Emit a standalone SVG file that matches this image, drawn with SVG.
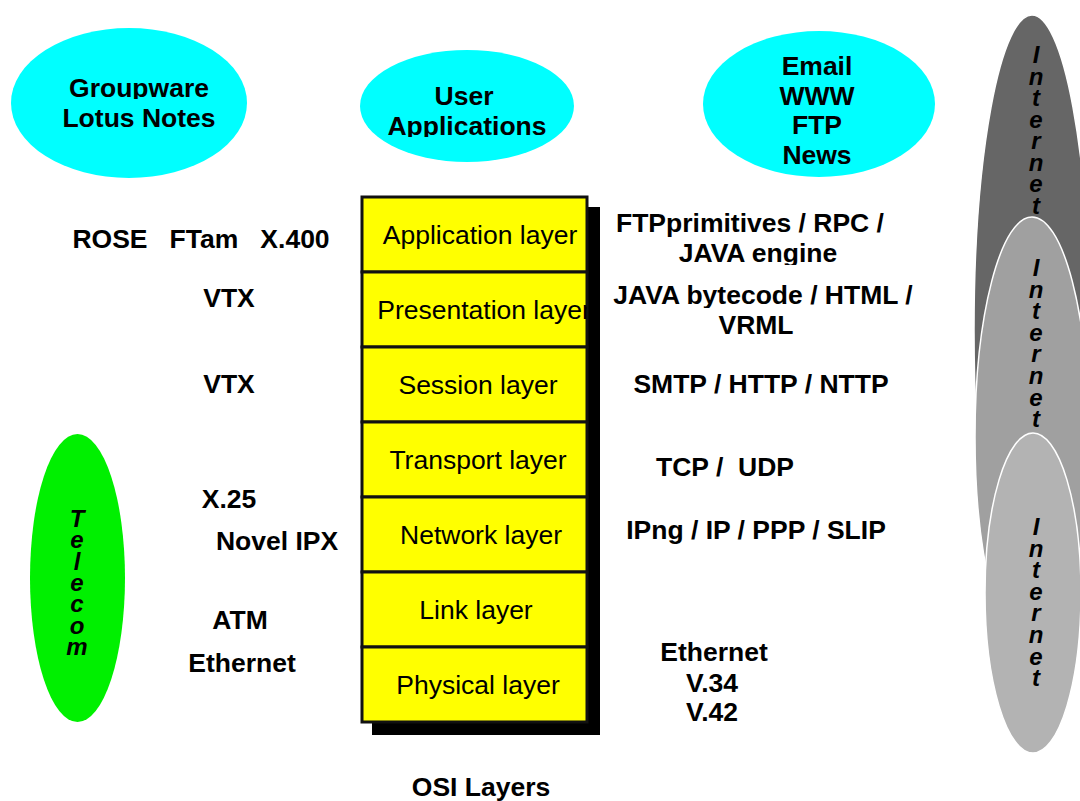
<svg xmlns="http://www.w3.org/2000/svg" width="1080" height="801" viewBox="0 0 1080 801">
<style>
.b{font-family:"Liberation Sans",Arial,sans-serif;font-weight:bold;font-size:26.5px;fill:#000;text-anchor:middle}
.l{font-family:"Liberation Sans",Arial,sans-serif;font-size:26.5px;fill:#000;text-anchor:middle}
.v{font-family:"Liberation Sans",Arial,sans-serif;font-weight:bold;font-style:italic;font-size:24px;fill:#000;text-anchor:middle}
.cy{fill:#00ffff}
.box{fill:#ffff00;stroke:#111;stroke-width:3}
</style>
<defs>
<clipPath id="cGw"><rect x="0" y="0" width="300" height="99"/></clipPath>
<clipPath id="cUa"><rect x="350" y="0" width="250" height="137"/></clipPath>
<clipPath id="cJe"><rect x="600" y="200" width="340" height="65"/></clipPath>
<clipPath id="cJb"><rect x="600" y="270" width="340" height="38"/></clipPath>
<clipPath id="cIp"><rect x="600" y="500" width="340" height="44"/></clipPath>
<clipPath id="cBox"><rect x="362" y="190" width="225" height="540"/></clipPath>
</defs>
<rect width="1080" height="801" fill="#fff"/>

<g id="internet-1">
<ellipse cx="1032" cy="330" rx="58" ry="315" fill="#666666" stroke="#fff" stroke-width="1.5"/>
</g>
<g id="internet-2">
<ellipse cx="1032" cy="437" rx="57" ry="220" fill="#a0a0a0" stroke="#fff" stroke-width="1.5"/>
</g>
<g id="internet-3">
<ellipse cx="1033" cy="593" rx="48" ry="160" fill="#b3b3b3" stroke="#fff" stroke-width="1.5"/>
</g>
<g id="internet-labels">
<text class="v"><tspan x="1036" y="63">I</tspan><tspan x="1036" y="84.5">n</tspan><tspan x="1036" y="106">t</tspan><tspan x="1036" y="127.5">e</tspan><tspan x="1036" y="149">r</tspan><tspan x="1036" y="170.5">n</tspan><tspan x="1036" y="192">e</tspan><tspan x="1036" y="213.5">t</tspan></text>
<text class="v"><tspan x="1036" y="276">I</tspan><tspan x="1036" y="297.6">n</tspan><tspan x="1036" y="319.2">t</tspan><tspan x="1036" y="340.8">e</tspan><tspan x="1036" y="362.4">r</tspan><tspan x="1036" y="384">n</tspan><tspan x="1036" y="405.6">e</tspan><tspan x="1036" y="427.2">t</tspan></text>
<text class="v"><tspan x="1036" y="535">I</tspan><tspan x="1036" y="556.6">n</tspan><tspan x="1036" y="578.2">t</tspan><tspan x="1036" y="599.8">e</tspan><tspan x="1036" y="621.4">r</tspan><tspan x="1036" y="643">n</tspan><tspan x="1036" y="664.6">e</tspan><tspan x="1036" y="686.2">t</tspan></text>
</g>

<g id="groupware">
<ellipse class="cy" cx="129" cy="103" rx="118" ry="75"/>
<text class="b" x="139" y="97" clip-path="url(#cGw)">Groupware</text>
<text class="b" x="139" y="127">Lotus Notes</text>
</g>
<g id="user-applications">
<ellipse class="cy" cx="467" cy="106" rx="107" ry="56"/>
<g clip-path="url(#cUa)">
<text class="b" x="464" y="105">User</text>
<text class="b" x="467" y="135">Applications</text>
</g>
</g>
<g id="internet-apps">
<ellipse class="cy" cx="819" cy="104" rx="116" ry="73"/>
<text class="b" x="817" y="75">Email</text>
<text class="b" x="817" y="105">WWW</text>
<text class="b" x="817" y="134">FTP</text>
<text class="b" x="817" y="164">News</text>
</g>
<g id="telecom">
<ellipse cx="77.5" cy="578" rx="47.5" ry="144" fill="#00f000"/>
<text class="v"><tspan x="77" y="527">T</tspan><tspan x="77" y="548.3">e</tspan><tspan x="77" y="569.6">l</tspan><tspan x="77" y="590.9">e</tspan><tspan x="77" y="612.2">c</tspan><tspan x="77" y="633.5">o</tspan><tspan x="77" y="654.8">m</tspan></text>
</g>

<g id="osi-stack">
<rect x="372" y="207" width="228" height="528" fill="#000"/>
<g id="layer-application"><rect class="box" x="362" y="197" width="225" height="75"/><text class="l" x="480" y="244">Application layer</text></g>
<g id="layer-presentation"><rect class="box" x="362" y="272" width="225" height="75"/><text class="l" x="484" y="319" clip-path="url(#cBox)">Presentation layer</text></g>
<g id="layer-session"><rect class="box" x="362" y="347" width="225" height="75"/><text class="l" x="478" y="394">Session layer</text></g>
<g id="layer-transport"><rect class="box" x="362" y="422" width="225" height="75"/><text class="l" x="478" y="469">Transport layer</text></g>
<g id="layer-network"><rect class="box" x="362" y="497" width="225" height="75"/><text class="l" x="481" y="544">Network layer</text></g>
<g id="layer-link"><rect class="box" x="362" y="572" width="225" height="75"/><text class="l" x="476" y="619">Link layer</text></g>
<g id="layer-physical"><rect class="box" x="362" y="647" width="225" height="75"/><text class="l" x="478" y="694">Physical layer</text></g>
</g>

<g id="left-protocols">
<text class="b" x="201" y="248" xml:space="preserve">ROSE   FTam   X.400</text>
<text class="b" x="229" y="307">VTX</text>
<text class="b" x="229" y="393">VTX</text>
<text class="b" x="229" y="508">X.25</text>
<text class="b" x="277" y="550">Novel IPX</text>
<text class="b" x="240" y="629">ATM</text>
<text class="b" x="242" y="672">Ethernet</text>
</g>
<g id="right-protocols">
<text class="b" x="750" y="232">FTPprimitives / RPC /</text>
<text class="b" x="758" y="262" clip-path="url(#cJe)">JAVA engine</text>
<text class="b" x="763" y="304" clip-path="url(#cJb)">JAVA bytecode / HTML /</text>
<text class="b" x="756" y="334">VRML</text>
<text class="b" x="761" y="393">SMTP / HTTP / NTTP</text>
<text class="b" x="725" y="476" xml:space="preserve">TCP /  UDP</text>
<text class="b" x="756" y="539" clip-path="url(#cIp)">IPng / IP / PPP / SLIP</text>
<text class="b" x="714" y="661">Ethernet</text>
<text class="b" x="712" y="692">V.34</text>
<text class="b" x="712" y="721">V.42</text>
</g>
<g id="title">
<text class="b" x="481" y="796">OSI Layers</text>
</g>
<g id="connectors"/>
</svg>
